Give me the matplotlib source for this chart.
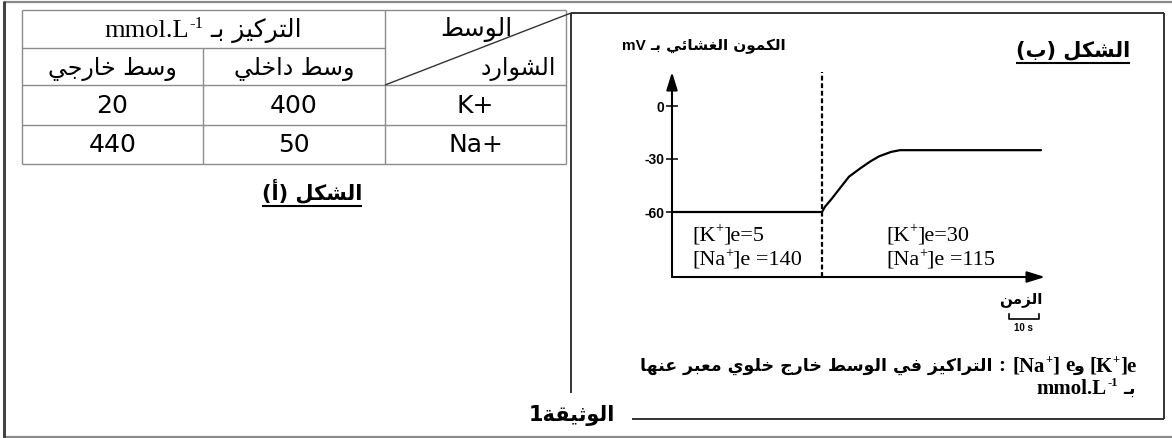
import matplotlib
matplotlib.use('Agg')
import matplotlib.pyplot as plt
from matplotlib.transforms import blended_transform_factory

# ---------------- data ----------------
col_headers = ['وسط خارجي', 'وسط داخلي']          # left -> right (visual)
conc_header = 'التركيز بـ'
conc_unit = 'mmol.L'
conc_unit_exp = '-1'
corner_top = 'الوسط'
corner_bottom = 'الشوارد'
ions = ['K+', 'Na+']
external_conc = [20, 440]
internal_conc = [400, 50]
fig_a_title = 'الشكل (أ)'
fig_b_title = 'الشكل (ب)'
y_label_ar = 'الكمون الغشائي بـ'
y_label_unit = 'mV'
x_label = 'الزمن'
y_ticks = [0, -30, -60]
y_tick_labels = ['0', '-30', '-60']
time_s = [0, 50, 51, 53, 56, 59, 63, 66, 69, 73, 76, 123]
potential_mV = [-60, -60, -57, -53, -46.5, -40, -35, -31.5, -28.5, -26, -25, -25]
change_time_s = 50
before_K, before_Na = 5, 140
after_K, after_Na = 30, 115
scale_bar_s = 10
scale_bar_label = '10 s'
footnote_ar = 'التراكيز في الوسط خارج خلوي معبر عنها'
footnote_and = 'و'
footnote_unit_ar = 'بـ'
doc_label = 'الوثيقة1'

# ---------------- minimal Arabic shaping ----------------
_seq = [('\u0621', 1), ('\u0622', 2), ('\u0623', 2), ('\u0624', 2), ('\u0625', 2),
        ('\u0626', 4), ('\u0627', 2), ('\u0628', 4), ('\u0629', 2), ('\u062A', 4),
        ('\u062B', 4), ('\u062C', 4), ('\u062D', 4), ('\u062E', 4), ('\u062F', 2),
        ('\u0630', 2), ('\u0631', 2), ('\u0632', 2), ('\u0633', 4), ('\u0634', 4),
        ('\u0635', 4), ('\u0636', 4), ('\u0637', 4), ('\u0638', 4), ('\u0639', 4),
        ('\u063A', 4), ('\u0641', 4), ('\u0642', 4), ('\u0643', 4), ('\u0644', 4),
        ('\u0645', 4), ('\u0646', 4), ('\u0647', 4), ('\u0648', 2), ('\u0649', 2),
        ('\u064A', 4)]
FORMS = {}
_code = 0xFE80
for ch, n in _seq:
    FORMS[ch] = [chr(_code + k) for k in range(n)]
    _code += n
LAMALEF = {'\u0622': ['\uFEF5', '\uFEF6'], '\u0623': ['\uFEF7', '\uFEF8'],
           '\u0625': ['\uFEF9', '\uFEFA'], '\u0627': ['\uFEFB', '\uFEFC']}
TATWEEL = '\u0640'


def _jtype(item):
    if isinstance(item, tuple):
        return 'R'
    if item == TATWEEL:
        return 'D'
    if item in FORMS:
        n = len(FORMS[item])
        return 'D' if n == 4 else ('R' if n == 2 else 'U')
    return None


def shape_vis(s):
    items = []
    i = 0
    while i < len(s):
        c = s[i]
        if c == '\u0644' and i + 1 < len(s) and s[i + 1] in LAMALEF:
            items.append(('LA', s[i + 1]))
            i += 2
        else:
            items.append(c)
            i += 1
    out = []
    n = len(items)
    for k, it in enumerate(items):
        t = _jtype(it)
        pc = k > 0 and _jtype(items[k - 1]) == 'D' and t in ('D', 'R')
        nc = k + 1 < n and t == 'D' and _jtype(items[k + 1]) in ('D', 'R')
        if isinstance(it, tuple):
            out.append(LAMALEF[it[1]][1 if pc else 0])
        elif it == TATWEEL or it not in FORMS:
            out.append(it)
        else:
            f = FORMS[it]
            if len(f) == 4:
                idx = 3 if (pc and nc) else 2 if nc else 1 if pc else 0
            elif len(f) == 2:
                idx = 1 if pc else 0
            else:
                idx = 0
            out.append(f[idx])
    vis = ''.join(reversed(out))
    return vis.translate(str.maketrans('()', ')('))


# ---------------- figure ----------------
W, H = 1172, 438
fig = plt.figure(figsize=(W / 100, H / 100), dpi=100)
ov = fig.add_axes([0, 0, 1, 1])
ov.set_xlim(0, W)
ov.set_ylim(H, 0)
ov.axis('off')
renderer = fig.canvas.get_renderer()

SERIF = 'Liberation Serif'
SANS = 'Liberation Sans'
AR = 'DejaVu Sans'


def run(pieces, x, y, align='left'):
    """pieces: list of (text, props, rise_px) or numeric gap (px). y = baseline px."""
    objs = []
    total = 0
    for p in pieces:
        if isinstance(p, (int, float)):
            objs.append((None, 0, p))
            total += p
            continue
        txt, kw, rise = p
        t = ov.text(0, 0, txt, ha='left', va='baseline', **kw)
        w = t.get_window_extent(renderer).width
        objs.append((t, rise, w))
        total += w
    x0 = x - total if align == 'right' else (x - total / 2 if align == 'center' else x)
    cur = x0
    for t, rise, w in objs:
        if t is not None:
            t.set_position((cur, y - rise))
        cur += w
    return x0, x0 + total


def L(x0, y0, x1, y1, color='k', lw=1.0, **kw):
    ov.plot([x0, x1], [y0, y1], color=color, lw=lw, solid_capstyle='butt', **kw)


# outer frame
L(4, 2, W, 2, color='#8a8a8a', lw=1.6)
L(4, 437, W, 437, color='#8a8a8a', lw=1.6)
L(4, 1, 4, 438, color='#444444', lw=2.2)

# ---------------- table (shape A) ----------------
col_x = [22, 203, 385, 566]
row_y = [10, 48, 85, 125, 164]
gc = '#8c8c8c'
L(col_x[0], row_y[0], col_x[3], row_y[0], gc)
L(col_x[0], row_y[1], col_x[2], row_y[1], gc)
for yy in row_y[2:]:
    L(col_x[0], yy, col_x[3], yy, gc)
L(col_x[0], row_y[0], col_x[0], row_y[4], gc)
L(col_x[3], row_y[0], col_x[3], row_y[4], gc)
L(col_x[2], row_y[0], col_x[2], row_y[4], gc)
L(col_x[1], row_y[1], col_x[1], row_y[4], gc)
# diagonal in corner cell, reaching the right panel corner
L(col_x[2], row_y[2], 571, 13, '#333333', lw=1.0)

ser_tab = dict(family=SERIF, fontsize=19)
run([(conc_unit, ser_tab, 0), (conc_unit_exp, dict(family=SERIF, fontsize=12), 9), 7,
     (shape_vis(conc_header), dict(family=AR, fontsize=18), 0)], (col_x[0] + col_x[2]) / 2, 37, 'center')
for k, h in enumerate(col_headers):
    run([(shape_vis(h), dict(family=AR, fontsize=17), 0)], (col_x[k] + col_x[k + 1]) / 2, 75, 'center')
run([(shape_vis(corner_top), dict(family=AR, fontsize=18), 0)], 512, 36, 'right')
run([(shape_vis(corner_bottom), dict(family=AR, fontsize=17), 0)], 556, 75, 'right')

num_kw = dict(family='DejaVu Sans', fontsize=18)
for r, base in enumerate([113, 152]):
    run([(str(external_conc[r]), num_kw, 0)], (col_x[0] + col_x[1]) / 2, base, 'center')
    run([(str(internal_conc[r]), num_kw, 0)], (col_x[1] + col_x[2]) / 2, base, 'center')
    run([(ions[r], num_kw, 0)], (col_x[2] + col_x[3]) / 2, base, 'center')

xa0, xa1 = run([(shape_vis(fig_a_title), dict(family=AR, fontsize=15, weight='bold'), 0)], 312, 199, 'center')
L(xa0, 206, xa1, 206, 'k', lw=1.5)

# ---------------- right panel box ----------------
bc = '#222222'
L(571, 13, 1164, 13, bc, lw=1.3)
L(571, 13, 571, 393, bc, lw=1.3)
L(1164, 13, 1164, 419, bc, lw=1.3)
L(632, 419, 1164, 419, bc, lw=1.3)
run([(shape_vis(doc_label), dict(family=AR, fontsize=15, weight='bold'), 0)], 615, 421, 'right')

xb0, xb1 = run([(shape_vis(fig_b_title), dict(family=AR, fontsize=15, weight='bold'), 0)], 1073, 56, 'center')
L(xb0, 63, xb1, 63, 'k', lw=1.5)

run([(y_label_unit, dict(family=SANS, fontsize=11, weight='bold'), 0), 4,
     (shape_vis(y_label_ar), dict(family=AR, fontsize=11, weight='bold'), 0)], 622, 50, 'left')

# ---------------- chart (shape B) ----------------
x_left, x_right = 672, 1045
y_top, y_bottom = 72, 277
px_per_s = 3.0
y0_px, y60_px = 106, 212
ppm = (y60_px - y0_px) / 60.0
ax = fig.add_axes([x_left / W, 1 - y_bottom / H, (x_right - x_left) / W, (y_bottom - y_top) / H])
ax.set_xlim(0, (x_right - x_left) / px_per_s)
ax.set_ylim(-(y_bottom - y0_px) / ppm, (y0_px - y_top) / ppm)
ax.patch.set_alpha(0)
for s in ax.spines.values():
    s.set_visible(False)
ax.set_xticks([])
ax.set_yticks(y_ticks)
ax.set_yticklabels(y_tick_labels, family=SANS, weight='bold', fontsize=10)
ax.tick_params(axis='y', direction='inout', length=9, width=1.1, pad=1)

arrow = dict(arrowstyle='-|>,head_length=0.9,head_width=0.28', lw=1.5, color='k',
             shrinkA=0, shrinkB=0, mutation_scale=12)
ax.annotate('', xy=(1, 0), xytext=(0, 0), xycoords='axes fraction', arrowprops=arrow)
ax.annotate('', xy=(0, 1), xytext=(0, 0), xycoords='axes fraction', arrowprops=arrow)

ax.axvline(change_time_s, color='k', lw=1.6, ls=(0, (2.2, 1.2)))
ax.plot(time_s, potential_mV, color='k', lw=1.6, solid_joinstyle='round', solid_capstyle='round')

lab = dict(family=SERIF, fontsize=16)
sup = dict(family=SERIF, fontsize=10)
bx = x_left + 20
run([('[K', lab, 0), ('+', sup, 8), (']e=%d' % before_K, lab, 0)], bx, 240)
run([('[Na', lab, 0), ('+', sup, 8), (']e =%d' % before_Na, lab, 0)], bx, 265)
axx = x_left + 214
run([('[K', lab, 0), ('+', sup, 8), (']e=%d' % after_K, lab, 0)], axx, 240)
run([('[Na', lab, 0), ('+', sup, 8), (']e =%d' % after_Na, lab, 0)], axx, 265)

run([(shape_vis(x_label), dict(family=AR, fontsize=11, weight='bold'), 0)], 1021, 303, 'center')

# scale bar (10 s)
bt = blended_transform_factory(ax.transData, ov.transData)
sb0 = 112.3
ax.plot([sb0, sb0, sb0 + scale_bar_s, sb0 + scale_bar_s], [314, 319, 319, 314],
        color='k', lw=1.2, transform=bt, clip_on=False)
ax.text(sb0 + scale_bar_s / 2, 331, scale_bar_label, transform=bt, ha='center', va='baseline',
        family=SANS, weight='bold', fontsize=7)

# footnote
fb = dict(family=SERIF, fontsize=15, weight='bold')
fs = dict(family=SERIF, fontsize=9, weight='bold')
fa = dict(family=AR, fontsize=12.5, weight='bold')
run([(shape_vis(footnote_ar), fa, 0), 5, (':', fb, 0), 8,
     ('[Na', fb, 0), ('+', fs, 8), (']', fb, 0), 6, ('e', fb, 0), -1, (shape_vis(footnote_and), fa, 0), 5,
     ('[K', fb, 0), ('+', fs, 8), (']e', fb, 0)], 1136, 371, 'right')
run([('mmol.L', fb, 0), ('-1', fs, 8), 6, (shape_vis(footnote_unit_ar), fa, 0)], 1136, 394, 'right')

fig.savefig('out.png', dpi=100)
